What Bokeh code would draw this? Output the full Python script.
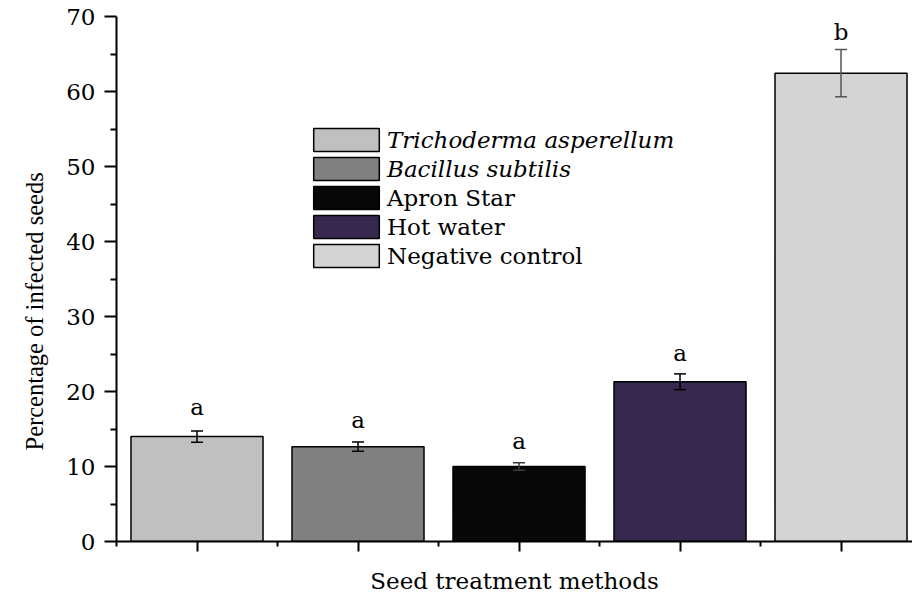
import math
from bokeh.plotting import figure
from bokeh.models import (ColumnDataSource, FixedTicker, Whisker, TeeHead, Legend,
                          LegendItem, Title)
from bokeh.core.properties import value
from bokeh.embed import file_html
from bokeh.resources import INLINE

# ---- data ----
treatments = ["Trichoderma asperellum", "Bacillus subtilis", "Apron Star",
              "Hot water", "Negative control"]
means = [14.0, 12.65, 10.0, 21.3, 62.45]
errors = [0.75, 0.62, 0.5, 1.05, 3.15]
letters = ["a", "a", "a", "a", "b"]
letter_y = [17.95, 16.25, 13.45, 25.15, 68.0]
colors = ["#c0c0c0", "#808080", "#080808", "#372850", "#d4d4d4"]
err_colors = ["black", "black", "#3a3a3a", "black", "#555555"]
y_ticks = [0, 10, 20, 30, 40, 50, 60, 70]

FONT = "DejaVu Serif"
VFONT = "Liberation Serif"
FS = "23px"

xs = list(range(len(treatments)))
src = ColumnDataSource(dict(
    x=xs, top=means, color=colors, name=treatments,
    letter=letters, letter_y=letter_y,
))

p = figure(width=912, height=598, x_range=(-0.5, 4.444), y_range=(0, 70),
           output_backend="svg", toolbar_location=None,
           min_border_left=116, min_border_right=0, min_border_top=16,
           min_border_bottom=57)
p.outline_line_color = None
p.xgrid.visible = False
p.ygrid.visible = False
p.background_fill_color = "white"

bars = p.vbar(x="x", top="top", width=0.82, bottom=0, source=src,
              fill_color="color", line_color="black", line_width=1.5)

# error bars
for i in range(len(treatments)):
    s = ColumnDataSource(dict(x=[xs[i]], upper=[means[i] + errors[i]],
                              lower=[means[i] - errors[i]]))
    w = Whisker(base="x", upper="upper", lower="lower", source=s, level="overlay",
                line_color=err_colors[i], line_width=1.5,
                upper_head=TeeHead(size=12, line_color=err_colors[i], line_width=1.5),
                lower_head=TeeHead(size=12, line_color=err_colors[i], line_width=1.5))
    p.add_layout(w)

# significance letters
p.text(x="x", y="letter_y", text="letter", source=src,
       text_align="center", text_baseline="alphabetic",
       text_font=value(FONT), text_font_size=FS, text_color="black")

# axes
p.yaxis.ticker = FixedTicker(ticks=y_ticks, minor_ticks=[5, 15, 25, 35, 45, 55, 65])
p.xaxis.ticker = FixedTicker(ticks=xs, minor_ticks=[-0.5, 0.5, 1.5, 2.5, 3.5, 4.5])
p.xaxis.major_label_overrides = {i: "" for i in xs}

for ax in (p.xaxis[0], p.yaxis[0]):
    ax.axis_line_width = 2
    ax.axis_line_color = "black"
    ax.major_tick_line_width = 2
    ax.minor_tick_line_width = 2
    ax.major_tick_line_color = "black"
    ax.minor_tick_line_color = "black"
    ax.major_tick_in = 0
    ax.minor_tick_in = 0
    ax.major_label_text_font = FONT
    ax.major_label_text_font_size = FS
    ax.major_label_text_color = "black"
    ax.axis_label_text_font = FONT
    ax.axis_label_text_font_size = FS
    ax.axis_label_text_font_style = "normal"
    ax.axis_label_text_color = "black"

p.yaxis.major_tick_out = 12
p.yaxis.minor_tick_out = 6
p.yaxis.major_label_standoff = 9
p.xaxis.major_tick_out = 10
p.xaxis.minor_tick_out = 5
p.xaxis.major_label_standoff = 0
p.xaxis.axis_label = "Seed treatment methods"
p.xaxis.axis_label_standoff = 16

ytitle = Title(text="Percentage of infected seeds", align="left", offset=91,
               standoff=32, text_font=VFONT, text_font_size="24.5px",
               text_font_style="normal", text_color="black")
p.add_layout(ytitle, "left")

# legends (italic species names, then normal)
def make_legend(idx, loc, style):
    items = [LegendItem(label=treatments[i], renderers=[bars], index=i) for i in idx]
    lg = Legend(items=items, location=loc, orientation="vertical",
                glyph_width=82, glyph_height=29, label_height=29, spacing=0,
                padding=0, margin=0, label_standoff=0,
                label_text_font=FONT, label_text_font_size=FS,
                label_text_font_style=style, label_text_color="black",
                border_line_color=None, background_fill_alpha=0)
    p.add_layout(lg, "center")

make_legend([0, 1], (189, 358), "italic")
make_legend([2, 3, 4], (189, 271), "normal")

open("out.html", "w").write(file_html(p, INLINE))
